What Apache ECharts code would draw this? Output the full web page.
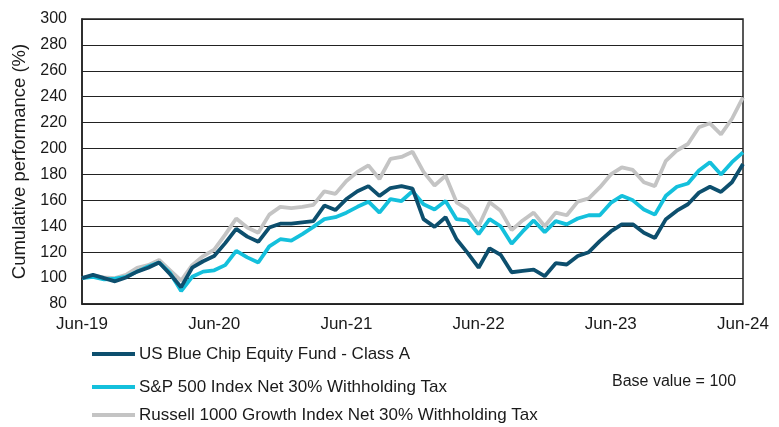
<!DOCTYPE html>
<html>
<head>
<meta charset="utf-8">
<script src="https://cdn.jsdelivr.net/npm/echarts@6/dist/echarts.min.js"></script>
<style>
  html, body { margin: 0; padding: 0; background: #fff; }
  #chart { width: 779px; height: 427px; }
</style>
</head>
<body>
<div id="chart"></div>
<script>
const months = [
  'Jun-19','Jul-19','Aug-19','Sep-19','Oct-19','Nov-19','Dec-19','Jan-20','Feb-20','Mar-20','Apr-20','May-20',
  'Jun-20','Jul-20','Aug-20','Sep-20','Oct-20','Nov-20','Dec-20','Jan-21','Feb-21','Mar-21','Apr-21','May-21',
  'Jun-21','Jul-21','Aug-21','Sep-21','Oct-21','Nov-21','Dec-21','Jan-22','Feb-22','Mar-22','Apr-22','May-22',
  'Jun-22','Jul-22','Aug-22','Sep-22','Oct-22','Nov-22','Dec-22','Jan-23','Feb-23','Mar-23','Apr-23','May-23',
  'Jun-23','Jul-23','Aug-23','Sep-23','Oct-23','Nov-23','Dec-23','Jan-24','Feb-24','Mar-24','Apr-24','May-24',
  'Jun-24'
]

const fundName = 'US Blue Chip Equity Fund - Class A'
const spName = 'S&P 500 Index Net 30% Withholding Tax'
const russellName = 'Russell 1000 Growth Index Net 30% Withholding Tax'

const fund = [
  100, 102.5, 100, 97.5, 100.5, 105, 108, 112, 103, 93, 108, 113,
  117, 127, 138, 132, 128, 139, 142, 142, 143, 144, 156, 152.5,
  161, 167, 171, 163.5, 169.5, 171, 169, 145.5, 139.5, 147, 130, 119.5,
  108, 123, 118, 104.5, 105.5, 106.5, 101.5, 111.5, 110.5, 117, 120, 128.5,
  136, 141.5, 141.5, 135, 131, 145.5, 152, 157, 166, 170.5, 166.5, 174,
  188
]
const sp500 = [
  100, 101, 99, 99.5, 101, 105, 109, 112, 104, 90, 101, 105,
  106, 110, 121, 116, 112, 124.5, 130, 129, 134, 139.5, 145.5, 147,
  150.5, 155, 159, 150.5, 161, 159.5, 167, 157, 153, 159.5, 145.5, 144.5,
  134, 145.5, 140, 126.5, 136, 144.5, 135.5, 144, 141.5, 146, 148.5, 148.5,
  158, 163.5, 160, 153, 149, 163.5, 170.5, 173, 183, 189.5, 180, 189.5,
  197
]
const russell = [
  100, 102, 100.5, 100, 102.5, 108, 110, 114, 106, 98, 110, 117,
  122, 133.5, 146, 139, 135, 149, 155, 154, 155, 156.5, 167, 165,
  175, 182, 187, 176.5, 192, 193.5, 197.5, 182, 171.5, 179, 158.5, 153,
  140, 158.5, 152, 137, 144.5, 150.5, 140, 150.5, 148.5, 159, 161.5, 170,
  180, 185.5, 183.5, 174, 171, 190.5, 198.5, 203.5, 216.5, 219.5, 211, 223,
  239.5
]

const FONT = 'Liberation Sans, Arial, sans-serif'
const TXT = '#1a1a1a'

function line(name, data, color) {
  return {
    name: name,
    type: 'line',
    data: data,
    symbol: 'none',
    lineStyle: { color: color, width: 3.8 },
    itemStyle: { color: color },
    z: 2
  }
}

// one legend per row, the rows are not evenly spaced
function legendRow(name, top) {
  return {
    data: [name],
    left: 92,
    top: top,
    padding: 0,
    icon: 'rect',
    itemWidth: 43,
    itemHeight: 4,
    textStyle: { fontFamily: FONT, fontSize: 17, color: TXT, padding: [0, 0, 0, -1] },
    selectedMode: false
  }
}

const myEcharts = echarts.init(document.getElementById('chart'))
myEcharts.setOption({
  animation: false,
  grid: { left: 82, right: 36, top: 19, bottom: 123, show: true, borderColor: '#222', borderWidth: 1.5 },
  legend: [
    legendRow(fundName, 345.5),
    legendRow(spName, 378.5),
    legendRow(russellName, 406.5)
  ],
  graphic: [{
    type: 'text',
    left: 612,
    top: 374,
    style: { text: 'Base value = 100', fontFamily: FONT, fontSize: 16, fill: TXT }
  }],
  xAxis: {
    type: 'category',
    data: months,
    boundaryGap: false,
    axisLine: { show: true, lineStyle: { color: '#222', width: 1.5 } },
    axisTick: { show: false },
    axisLabel: { interval: 11, fontFamily: FONT, fontSize: 17, color: TXT, margin: 12 },
    splitLine: { show: false }
  },
  yAxis: {
    type: 'value',
    min: 80,
    max: 300,
    interval: 20,
    name: 'Cumulative performance (%)',
    nameLocation: 'middle',
    nameRotate: 90,
    nameGap: 45,
    nameTextStyle: { fontFamily: FONT, fontSize: 18.5, color: TXT },
    axisLine: { show: true, lineStyle: { color: '#222', width: 1.5 } },
    axisTick: { show: false },
    axisLabel: { fontFamily: FONT, fontSize: 16, color: TXT, margin: 15 },
    splitLine: { show: true, lineStyle: { color: '#222', width: 1.2 } }
  },
  series: [
    line(russellName, russell, '#c4c4c4'),
    line(spName, sp500, '#14c0dc'),
    line(fundName, fund, '#0d4f6e')
  ]
})
</script>
</body>
</html>
